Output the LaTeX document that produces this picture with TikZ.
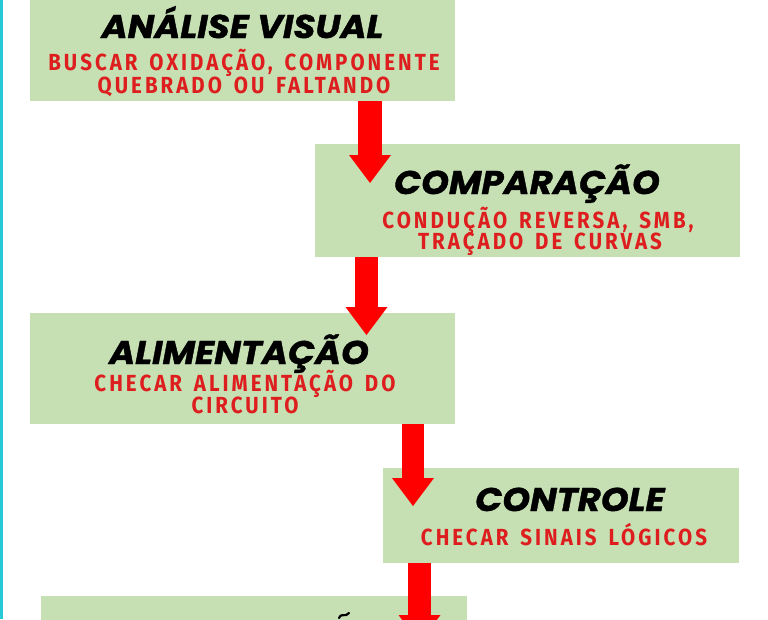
\documentclass[tikz,border=0pt]{standalone}
\usepackage{fontspec}
\usetikzlibrary{arrows.meta}
\newfontfamily\titlefont{Poppins}[FakeStretch=1.08, FakeBold=1.2]
\newfontfamily\subfont{Fira Sans}[FakeStretch=0.88, LetterSpace=13, WordSpace=1.5]
\definecolor{boxgreen}{RGB}{198,224,180}
\definecolor{arrowred}{RGB}{255,0,0}
\definecolor{textred}{RGB}{222,30,30}
\definecolor{edgecyan}{RGB}{40,200,215}
\tikzset{
  box/.style={fill=boxgreen, draw=none, inner sep=0pt, anchor=north west},
  ttl/.style={anchor=base, inner sep=0pt, font=\titlefont\bfseries\itshape\fontsize{32.8}{32.8}\selectfont},
  sub/.style={anchor=base, inner sep=0pt, text=textred, font=\subfont\bfseries\fontsize{23.3}{23.3}\selectfont},
  blk/.style={line width=#1, draw=arrowred, line cap=butt,
    -{Triangle[width=42pt,length=28pt,line width=0pt,fill=arrowred]}},
}
\begin{document}
\begin{tikzpicture}[x=1pt,y=-1pt]
\useasboundingbox (0,0) rectangle (768,619);
\clip (0,0) rectangle (768,619);
\fill[edgecyan] (0,0) rectangle (3,619);
% boxes
\node[box, minimum width=425pt, minimum height=111pt] (b1) at (30,-10) {};
\node[box, minimum width=425pt, minimum height=113pt] (b2) at (315,144) {};
\node[box, minimum width=425pt, minimum height=111pt] (b3) at (30,313) {};
\node[box, minimum width=356pt, minimum height=95pt] (b4) at (383,468) {};
\node[box, minimum width=426pt, minimum height=60pt] (b5) at (41,596) {};
% texts
\node[ttl] (t1) at (242.5,38) {ANÁLISE VISUAL};
\node[sub] (s1a) at (244,70.5) {BUSCAR OXIDAÇÃO, COMPONENTE};
\node[sub] (s1b) at (244,93.5) {QUEBRADO OU FALTANDO};
\node[ttl] (t2) at (527,194) {COMPARAÇÃO};
\node[sub] (s2a) at (538,228) {CONDUÇÃO REVERSA, SMB,};
\node[sub] (s2b) at (540,249) {TRAÇADO DE CURVAS};
\node[ttl] (t3) at (239,364) {ALIMENTAÇÃO};
\node[sub] (s3a) at (245,391) {CHECAR ALIMENTAÇÃO DO};
\node[sub] (s3b) at (245,413) {CIRCUITO};
\node[ttl] (t4) at (570,511) {CONTROLE};
\node[sub] (s4a) at (564,545) {CHECAR SINAIS LÓGICOS};
% partial tilde of the last title
\draw[line width=2.2pt, line cap=round] (339,618) .. controls (342,612) and (345,618) .. (349,613);
% arrows
\coordinate (p1) at (370,183);
\coordinate (p2) at (366.5,335);
\coordinate (p3) at (413,506);
\coordinate (p4) at (419.5,643);
\draw[blk=24pt] (b1.south -| p1) -- (p1);
\draw[blk=23pt] (b2.south -| p2) -- (p2);
\draw[blk=22pt] (b3.south -| p3) -- (p3);
\draw[blk=23pt] (b4.south -| p4) -- (p4);
\end{tikzpicture}
\end{document}
